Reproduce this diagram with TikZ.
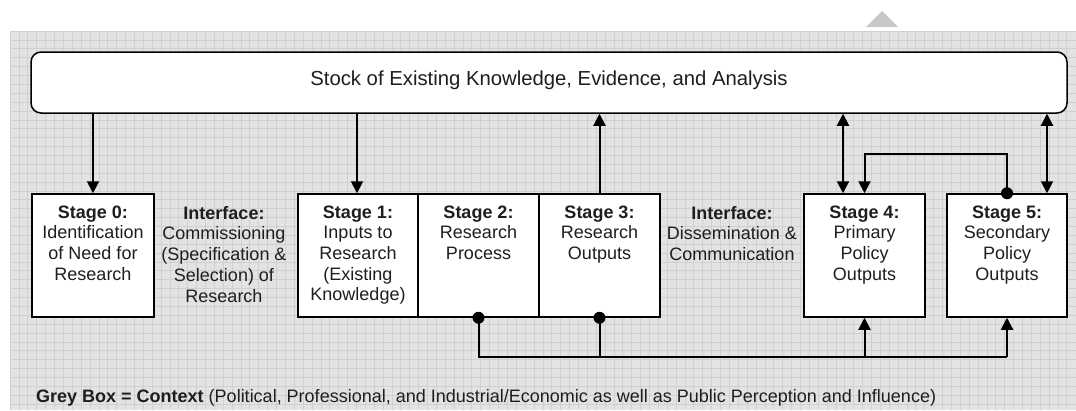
\documentclass[tikz,border=0pt]{standalone}
\usepackage{fontspec}
\setmainfont{Liberation Sans}
\usetikzlibrary{arrows.meta,calc}
\definecolor{gridbg}{HTML}{E3E3E3}
\definecolor{gridln}{HTML}{D0D0D0}
\definecolor{markgrey}{HTML}{C8C8C8}
\definecolor{ink}{HTML}{1E1E1E}
\begin{document}
\begin{tikzpicture}[x=1pt,y=-1pt,
  stagebox/.style={draw=black,fill=white,line width=1.5pt,inner sep=0pt},
  stockbox/.style={draw=black,fill=white,line width=1.5pt,rounded corners=10pt,inner sep=0pt},
  lbl/.style={inner sep=0pt,align=center,text=ink,font=\fontsize{18}{20.7}\selectfont},
  conn/.style={line width=2pt,draw=black},
  tipend/.style={conn,-{Triangle[length=12pt,width=12pt]}},
  tipboth/.style={conn,{Triangle[length=12pt,width=12pt]}-{Triangle[length=12pt,width=12pt]}},
  dotmark/.style={fill=black}]
\useasboundingbox (0,0) rectangle (1076,410);
% grey context area with grid
\fill[gridbg] (10,31) rectangle (1076,410);
\foreach \i in {0,...,119} \draw[gridln,line width=0.6pt] (10+\i*8.88,31) -- (10+\i*8.88,410);
\foreach \j in {0,...,42} \draw[gridln,line width=0.6pt] (10,31+\j*8.88) -- (1076,31+\j*8.88);
% small marker at the top
\fill[markgrey] (866,27) -- (882,11) -- (898,27) -- cycle;

% knowledge stock
\node[stockbox,minimum width=1036pt,minimum height=61pt] (stock) at (549,82.5) {};
\node[lbl,anchor=base,font=\fontsize{20.3}{23}\selectfont] (stocktxt) at (549,85)
  {Stock of Existing Knowledge, Evidence, and Analysis};

% stages
\node[stagebox,minimum width=122pt,minimum height=123pt] (s0) at (93,255.5) {};
\node[stagebox,minimum width=120pt,minimum height=123pt] (s1) at (358,255.5) {};
\node[stagebox,minimum width=121pt,minimum height=123pt] (s2) at (478.5,255.5) {};
\node[stagebox,minimum width=121pt,minimum height=123pt] (s3) at (599.5,255.5) {};
\node[stagebox,minimum width=121pt,minimum height=123pt] (s4) at (864.5,255.5) {};
\node[stagebox,minimum width=120pt,minimum height=123pt] (s5) at (1007,255.5) {};

% stage texts
\node[lbl,anchor=north] (t0) at ([yshift=-12pt]s0.north) {\textbf{Stage 0:}\\Identification\\of Need for\\Research};
\node[lbl,anchor=north] (t1) at ([yshift=-12pt]s1.north) {\textbf{Stage 1:}\\Inputs to\\Research\\(Existing\\Knowledge)};
\node[lbl,anchor=north] (t2) at ([yshift=-12pt]s2.north) {\textbf{Stage 2:}\\Research\\Process};
\node[lbl,anchor=north] (t3) at ([yshift=-12pt]s3.north) {\textbf{Stage 3:}\\Research\\Outputs};
\node[lbl,anchor=north] (t4) at ([yshift=-12pt]s4.north) {\textbf{Stage 4:}\\Primary\\Policy\\Outputs};
\node[lbl,anchor=north] (t5) at ([yshift=-12pt]s5.north) {\textbf{Stage 5:}\\Secondary\\Policy\\Outputs};

% interfaces
\node[lbl,anchor=north] (if1) at (224,206) {\textbf{Interface:}\\Commissioning\\(Specification \&\\Selection) of\\Research};
\node[lbl,anchor=north] (if2) at (732,206) {\textbf{Interface:}\\Dissemination \&\\Communication};

% links with the knowledge stock
\draw[tipend] (s0.north |- stock.south) -- (s0.north);
\draw[tipend] ([xshift=-1pt]s1.north |- stock.south) -- ([xshift=-1pt]s1.north);
\draw[tipend] (s3.north) -- (s3.north |- stock.south);
\draw[tipboth] ([xshift=-21.5pt]s4.north |- stock.south) -- ([xshift=-21.5pt]s4.north);
\draw[tipboth] ([xshift=40pt]s5.north |- stock.south) -- ([xshift=40pt]s5.north);

% feedback from stage 5 to stage 4
\coordinate (topl) at (864.5,154);
\draw[tipend] (s5.north) |- (topl) -- (s4.north);
\fill[dotmark] (s5.north) circle (6pt);

% research results feeding policy outputs
\coordinate (busl) at (478.5,357);
\draw[conn] (s2.south) -- (busl) -- (s5.south |- busl);
\draw[conn] (s3.south) -- (s3.south |- busl);
\draw[tipend] (s4.south |- busl) -- (s4.south);
\draw[tipend] (s5.south |- busl) -- (s5.south);
\fill[dotmark] (s2.south) circle (6pt);
\fill[dotmark] (s3.south) circle (6pt);

% legend
\node[inner sep=0pt,anchor=base west,text=ink,font=\fontsize{18}{20.7}\selectfont] (legend) at (36,402)
  {\textbf{Grey Box = Context} (Political, Professional, and Industrial/Economic as well as Public Perception and Influence)};
\end{tikzpicture}
\end{document}
